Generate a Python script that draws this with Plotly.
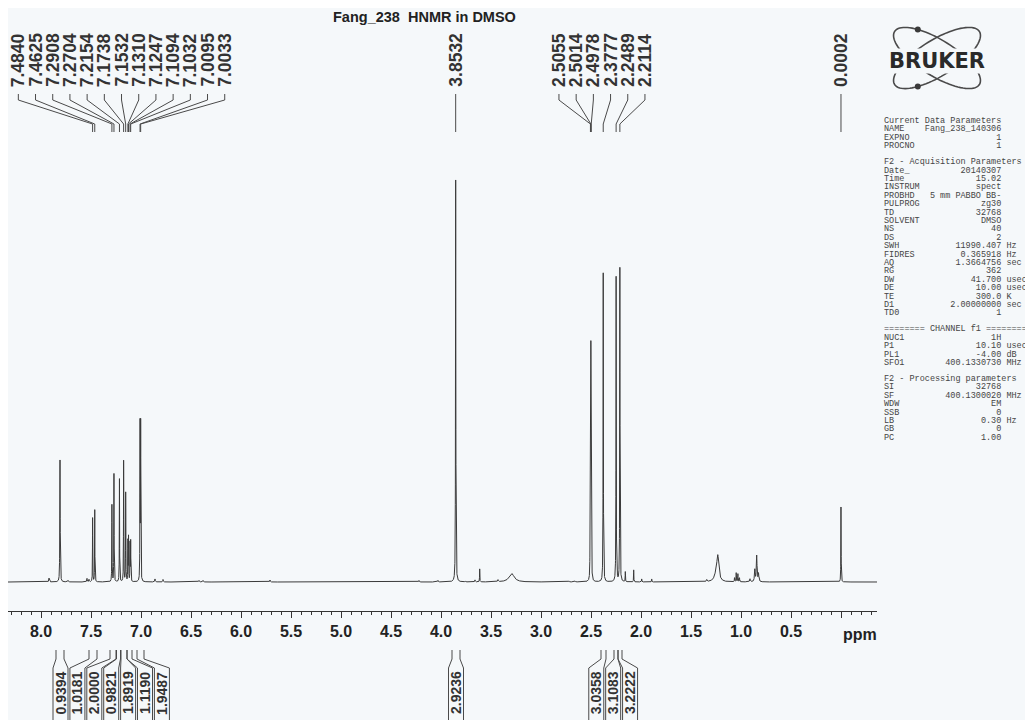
import numpy as np
import plotly.graph_objects as go

W, H = 1033, 720
OFF = 8            # the page body margin shifts the figure by 8 px
BG = "#f5f8fa"
INK = "#333333"

TITLE = "Fang_238  HNMR in DMSO"

# ---------------- spectrum: peak list ----------------
peak_ppm = [7.92, 7.81, 7.73, 7.54, 7.52, 7.4840, 7.4625, 7.2908, 7.2704, 7.2154,
            7.1738, 7.1532, 7.1310, 7.1247, 7.1094, 7.1032, 7.0095, 7.0033, 6.86, 6.78,
            6.42, 6.38, 5.71, 4.22, 4.03, 3.8532, 3.76, 3.66, 3.613, 3.43,
            3.293, 2.72, 2.66, 2.5096, 2.5055, 2.5014, 2.4978, 2.4937, 2.3777, 2.2489,
            2.2114, 2.157, 2.073, 1.993, 1.893, 1.343, 1.25, 1.232, 1.065, 1.048,
            1.031, 1.015, 0.91, 0.862, 0.843, 0.825, 0.0002]
peak_int = [4, 122, 1.5, 3.5, 2.5, 64, 72, 77, 108, 103,
            121, 89, 40, 44, 38, 40, 155, 155, 3, 2.5,
            1.5, 1.5, 2, 1.5, 1.5, 402, 1, 2, 13, 2,
            8.5, 1, 1, 25, 130, 205, 130, 25, 309, 305,
            314, 10, 12, 3, 3, 2, 6, 24, 4, 9,
            8, 4, 3, 12, 26, 8, 75]
peak_hw = [0.003, 0.002, 0.004, 0.003, 0.003, 0.0015, 0.0015, 0.0015, 0.0015, 0.0015,
           0.0015, 0.0015, 0.0015, 0.0015, 0.0015, 0.0015, 0.0015, 0.0015, 0.003, 0.003,
           0.004, 0.004, 0.003, 0.003, 0.003, 0.0018, 0.003, 0.003, 0.0015, 0.004,
           0.03, 0.003, 0.003, 0.0015, 0.0015, 0.0015, 0.0015, 0.0015, 0.0017, 0.0017,
           0.0017, 0.0015, 0.0015, 0.002, 0.002, 0.004, 0.02, 0.012, 0.002, 0.002,
           0.002, 0.002, 0.004, 0.004, 0.004, 0.004, 0.0015]

# ---------------- peak pick labels ----------------
label_ppm = [7.4840, 7.4625, 7.2908, 7.2704, 7.2154, 7.1738, 7.1532, 7.1310, 7.1247,
             7.1094, 7.1032, 7.0095, 7.0033, 3.8532, 2.5055, 2.5014, 2.4978, 2.3777,
             2.2489, 2.2114, 0.0002]
label_group = [0] * 13 + [1] + [2] * 6 + [3]

# ---------------- integrals ----------------
int_text = ["0.9394", "1.0181", "2.0000", "0.9821", "1.8919", "1.1190", "1.9487",
            "2.9236", "3.0358", "3.1083", "3.2222"]
int_from = [7.85, 7.52, 7.31, 7.245, 7.20, 7.14, 7.04, 3.89, 2.40, 2.27, 2.23]
int_to = [7.77, 7.44, 7.25, 7.205, 7.14, 7.09, 6.97, 3.81, 2.35, 2.23, 2.19]
int_group = [0] * 7 + [1] + [2] * 3

# ---------------- axis ticks ----------------
tick_vals = [8.0, 7.5, 7.0, 6.5, 6.0, 5.5, 5.0, 4.5, 4.0, 3.5, 3.0, 2.5, 2.0, 1.5, 1.0, 0.5, 0.0]
tick_text = ["8.0", "7.5", "7.0", "6.5", "6.0", "5.5", "5.0", "4.5", "4.0", "3.5",
             "3.0", "2.5", "2.0", "1.5", "1.0", "0.5", ""]

# ---------------- acquisition parameter block ----------------
param_rows = [
    ("Current Data Parameters", "", ""), ("NAME", "Fang_238_140306", ""), ("EXPNO", "1", ""),
    ("PROCNO", "1", ""), None,
    ("F2 - Acquisition Parameters", "", ""), ("Date_", "20140307", ""), ("Time", "15.02", ""),
    ("INSTRUM", "spect", ""), ("PROBHD", "5 mm PABBO BB-", ""), ("PULPROG", "zg30", ""),
    ("TD", "32768", ""), ("SOLVENT", "DMSO", ""), ("NS", "40", ""), ("DS", "2", ""),
    ("SWH", "11990.407", "Hz"), ("FIDRES", "0.365918", "Hz"), ("AQ", "1.3664756", "sec"),
    ("RG", "362", ""), ("DW", "41.700", "usec"), ("DE", "10.00", "usec"), ("TE", "300.0", "K"),
    ("D1", "2.00000000", "sec"), ("TD0", "1", ""), None,
    ("======== CHANNEL f1 ========", "", ""), ("NUC1", "1H", ""), ("P1", "10.10", "usec"),
    ("PL1", "-4.00", "dB"), ("SFO1", "400.1330730", "MHz"), None,
    ("F2 - Processing parameters", "", ""), ("SI", "32768", ""), ("SF", "400.1300020", "MHz"),
    ("WDW", "EM", ""), ("SSB", "0", ""), ("LB", "0.30", "Hz"), ("GB", "0", ""), ("PC", "1.00", ""),
]

# ============================================================================
X_LEFT_PX, X_RIGHT_PX = 8, 877          # plot area in page pixels
PPM_AT_LEFT, PPM_AT_RIGHT = 8.33, -0.36
AXIS_Y_PX, BASE_Y_PX = 611, 582


def px(x):
    return (x - OFF) / W


def py(y):
    return 1 - (y - OFF) / H


# spectrum curve from the peak list
grid = np.linspace(PPM_AT_LEFT, PPM_AT_RIGHT, 17400)
xs = np.unique(np.concatenate([grid, np.array(peak_ppm)]))[::-1]
ys = np.zeros_like(xs)
for c, h, w in zip(peak_ppm, peak_int, peak_hw):
    ys += h / (1.0 + ((xs - c) / w) ** 2)

fig = go.Figure()
fig.add_trace(go.Scatter(x=xs, y=ys, mode="lines", line=dict(color="#3a3a3a", width=1),
                         hoverinfo="skip", showlegend=False))

shapes = []
annotations = []
LINE = dict(color="#4a4a4a", width=1)
BOLD = "Liberation Sans, Arial"

# peak labels
LAB_SP = 0.172
for g in sorted(set(label_group)):
    idx = [i for i, gg in enumerate(label_group) if gg == g]
    n = len(idx)
    center = float(np.mean([label_ppm[i] for i in idx]))
    for k, i in enumerate(idx):
        lx = center + ((n - 1) / 2 - k) * LAB_SP
        p = label_ppm[i]
        annotations.append(dict(x=lx, y=py(60), xref="x", yref="paper", text=f"{p:.4f}",
                                textangle=-90, showarrow=False, xanchor="center", yanchor="middle",
                                font=dict(family=BOLD, size=17.5, color="#333", weight="bold")))
        path = f"M {lx},{py(94)} L {lx},{py(100)} L {p},{py(124)} L {p},{py(132)}"
        shapes.append(dict(type="path", path=path, xref="x", yref="paper", line=LINE))

# integrals
INT_SP = 0.169
HALF = 0.075
for g in sorted(set(int_group)):
    idx = [i for i, gg in enumerate(int_group) if gg == g]
    n = len(idx)
    center = float(np.mean([(int_from[i] + int_to[i]) / 2 for i in idx]))
    for k, i in enumerate(idx):
        lx = center + ((n - 1) / 2 - k) * INT_SP
        a, b = int_from[i], int_to[i]
        annotations.append(dict(x=lx, y=py(693), xref="x", yref="paper", text=int_text[i],
                                textangle=-90, showarrow=False, xanchor="center", yanchor="middle",
                                font=dict(family=BOLD, size=14, color="#333", weight="bold")))
        for edge, bx in ((a, lx + HALF), (b, lx - HALF)):
            path = f"M {edge},{py(650)} L {edge},{py(659)} L {bx},{py(668)} L {bx},{py(724)}"
            shapes.append(dict(type="path", path=path, xref="x", yref="paper", line=LINE))

# title and unit
annotations.append(dict(x=px(424), y=py(17), xref="paper", yref="paper", text=TITLE,
                        showarrow=False, xanchor="center", yanchor="middle",
                        font=dict(family=BOLD, size=14.5, color="#222", weight="bold")))
annotations.append(dict(x=-0.19, y=py(634), xref="x", yref="paper", text="ppm",
                        showarrow=False, xanchor="center", yanchor="middle",
                        font=dict(family=BOLD, size=16, color="#222", weight="bold")))

# parameter block
y = 121.0
for row in param_rows:
    if row is None:
        y += 16 - 8.4
        continue
    key, val, unit = row
    if val:
        s = key + val.rjust(23 - len(key))
        if unit:
            s += " " + unit
    else:
        s = key
    annotations.append(dict(x=px(883), y=py(y), xref="paper", yref="paper",
                            text=s.replace(" ", "\u00a0"), showarrow=False,
                            xanchor="left", yanchor="middle", borderpad=0,
                            font=dict(family="Liberation Mono, Courier New", size=8.5,
                                      color="#454545")))
    y += 8.4


# Bruker logo
def ellipse_path(cx, cy, a, b, ang_deg, n=90):
    th = np.radians(ang_deg)
    t = np.linspace(0, 2 * np.pi, n)
    ex = cx + a * np.cos(t) * np.cos(th) - b * np.sin(t) * np.sin(th)
    ey = cy + a * np.cos(t) * np.sin(th) + b * np.sin(t) * np.cos(th)
    return "M " + " L ".join(f"{px(u):.5f},{py(v):.5f}" for u, v in zip(ex, ey)) + " Z"


def ellipse_pt(cx, cy, a, b, ang_deg, t):
    th = np.radians(ang_deg)
    return (cx + a * np.cos(t) * np.cos(th) - b * np.sin(t) * np.sin(th),
            cy + a * np.cos(t) * np.sin(th) + b * np.sin(t) * np.cos(th))


LCX, LCY = 937, 58
for ang, tdot in ((32, -2.25), (-32, 2.25)):
    shapes.append(dict(type="path", path=ellipse_path(LCX, LCY, 50, 18, ang), xref="paper",
                       yref="paper", line=dict(color="#4a4a4a", width=1.6)))
    dx, dy = ellipse_pt(LCX, LCY, 50, 18, ang, tdot)
    shapes.append(dict(type="circle", xref="paper", yref="paper", x0=px(dx - 3), x1=px(dx + 3),
                       y0=py(dy - 3), y1=py(dy + 3), fillcolor="#3a3a3a", line=dict(width=0)))
annotations.append(dict(x=px(LCX), y=py(61), xref="paper", yref="paper", text="BRUKER",
                        showarrow=False, xanchor="center", yanchor="middle", bgcolor=BG,
                        borderpad=0,
                        font=dict(family="DejaVu Sans", size=21, color="#2a2a2a", weight="bold")))

fig.update_layout(
    width=W, height=H, margin=dict(l=0, r=0, t=0, b=0),
    paper_bgcolor=BG, plot_bgcolor=BG, showlegend=False,
    xaxis=dict(domain=[px(X_LEFT_PX), px(X_RIGHT_PX)], range=[PPM_AT_LEFT, PPM_AT_RIGHT],
               showgrid=False, zeroline=False, showline=True, linecolor=INK, linewidth=1,
               ticks="outside", ticklen=6, tickcolor=INK, tickwidth=1,
               tickvals=tick_vals, ticktext=tick_text,
               tickfont=dict(family=BOLD, size=16, color="#222", weight="bold"),
               minor=dict(ticks="outside", ticklen=3, dtick=0.1, tick0=0, tickcolor=INK,
                          showgrid=False)),
    yaxis=dict(domain=[py(AXIS_Y_PX), py(OFF)], range=[-(AXIS_Y_PX - BASE_Y_PX), BASE_Y_PX - OFF],
               visible=False),
    shapes=shapes, annotations=annotations,
)

fig.write_html("out.html")
